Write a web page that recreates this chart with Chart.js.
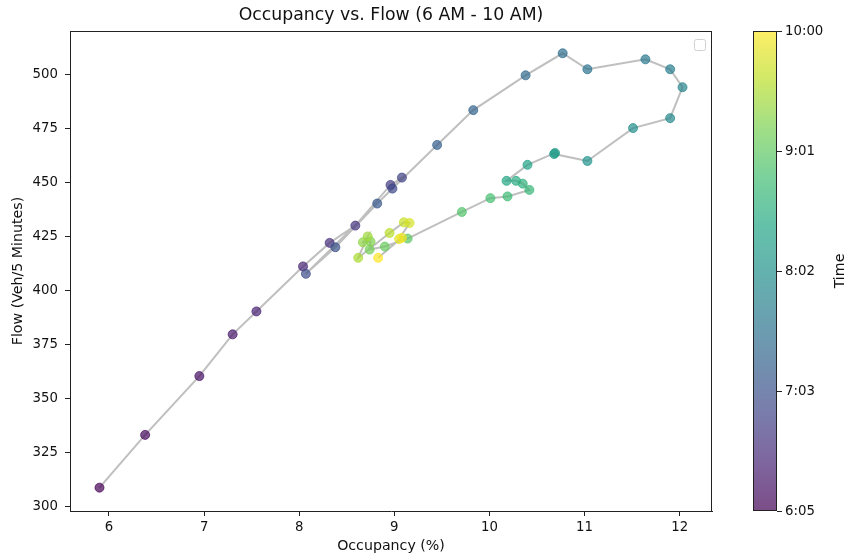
<!DOCTYPE html>
<html>
<head>
<meta charset="utf-8">
<script src="https://cdn.jsdelivr.net/npm/chart.js@4"></script>
<style>
  body { margin: 0; background: #fff; }
  canvas { display: block; }
</style>
</head>
<body>
<canvas id="chart" width="847" height="560"></canvas>
<script>
// time of each reading (5 minute steps)
var times = ['6:05','6:10','6:15','6:20','6:25','6:30','6:35','6:40','6:45','6:50','6:55','7:00',
             '7:05','7:10','7:15','7:20','7:25','7:30','7:35','7:40','7:45','7:50','7:55','8:00',
             '8:05','8:10','8:15','8:20','8:25','8:30','8:35','8:40','8:45','8:50','8:55','9:00',
             '9:05','9:10','9:15','9:20','9:25','9:30','9:35','9:40','9:45','9:50','9:55','10:00'];

var occupancy = [5.90, 6.38, 6.95, 7.30, 7.55, 8.04, 8.32, 8.59, 8.96, 9.08, 8.98, 8.07,
                 8.38, 8.82, 9.45, 9.83, 10.38, 10.77, 11.03, 11.64, 11.90, 12.03, 11.90, 11.51,
                 11.03, 10.68, 10.69, 10.40, 10.18, 10.28, 10.35, 10.42, 10.19, 10.01, 9.71, 9.14,
                 8.90, 8.74, 8.75, 8.67, 8.72, 8.62, 8.95, 9.10, 9.16, 9.05, 9.08, 8.83];

var flow = [308.8, 333.2, 360.4, 379.7, 390.3, 411.1, 422.0, 430.0, 448.8, 452.2, 447.1, 407.7,
            420.0, 440.2, 467.3, 483.4, 499.5, 509.7, 502.3, 506.9, 502.3, 494.0, 479.7, 475.1,
            459.9, 463.1, 463.6, 458.1, 450.7, 450.7, 449.4, 446.5, 443.5, 442.7, 436.3, 424.0,
            420.3, 418.9, 422.6, 422.3, 425.0, 415.1, 426.6, 431.5, 431.2, 423.8, 424.4, 415.1];

var xTicks = [6, 7, 8, 9, 10, 11, 12];
var yTicks = [300, 325, 350, 375, 400, 425, 450, 475, 500];
var colorbarTicks = ['6:05', '7:03', '8:02', '9:01', '10:00'];

var FONT = 'DejaVu Sans';
var TITLE = 'Occupancy vs. Flow (6 AM - 10 AM)';

function toMinutes(t) {
  var p = t.split(':');
  return parseInt(p[0]) * 60 + parseInt(p[1]);
}

// viridis colormap
var viridis = ['#440154','#482475','#414487','#355f8d','#2a788e','#21918c','#22a884','#44bf70','#7ad151','#bddf26','#fde725'];
function hexRgb(h) {
  return [parseInt(h.substr(1,2),16), parseInt(h.substr(3,2),16), parseInt(h.substr(5,2),16)];
}
function cmap(f, alpha) {
  f = Math.max(0, Math.min(1, f));
  var pos = f * (viridis.length - 1);
  var i = Math.min(Math.floor(pos), viridis.length - 2);
  var r = pos - i;
  var a = hexRgb(viridis[i]), b = hexRgb(viridis[i + 1]);
  var c = [0,1,2].map(function (k) { return Math.round(a[k] + (b[k] - a[k]) * r); });
  return 'rgba(' + c[0] + ',' + c[1] + ',' + c[2] + ',' + alpha + ')';
}

var tMin = toMinutes(times[0]);
var tMax = toMinutes(times[times.length - 1]);

var points = occupancy.map(function (x, i) { return {x: x, y: flow[i]}; });
var pointColors = times.map(function (t) { return cmap((toMinutes(t) - tMin) / (tMax - tMin), 0.7); });

var frameAndColorbar = {
  id: 'frameAndColorbar',
  afterDraw: function (chart) {
    var ctx = chart.ctx;
    var a = chart.chartArea;
    ctx.save();
    // top and right spines
    ctx.strokeStyle = '#222';
    ctx.lineWidth = 1;
    ctx.beginPath();
    ctx.moveTo(a.left, a.top + 0.5);
    ctx.lineTo(a.right, a.top + 0.5);
    ctx.moveTo(a.right - 0.5, a.top);
    ctx.lineTo(a.right - 0.5, a.bottom);
    ctx.stroke();

    // title, centred over the axes
    ctx.fillStyle = '#111';
    ctx.font = '17.3px "' + FONT + '"';
    ctx.textAlign = 'center';
    ctx.textBaseline = 'middle';
    ctx.fillText(TITLE, (a.left + a.right) / 2, 16);

    // empty legend box
    ctx.fillStyle = 'rgba(255,255,255,0.8)';
    ctx.strokeStyle = '#d0d0d0';
    ctx.beginPath();
    ctx.roundRect(a.right - 17.5, a.top + 8.5, 11, 11, 2);
    ctx.fill();
    ctx.stroke();

    // colorbar
    var cx = 753, cw = 24, top = a.top, bottom = a.bottom;
    var g = ctx.createLinearGradient(0, bottom, 0, top);
    for (var i = 0; i <= 20; i++) g.addColorStop(i / 20, cmap(i / 20, 0.7));
    ctx.fillStyle = g;
    ctx.fillRect(cx, top, cw, bottom - top);
    ctx.strokeStyle = '#222';
    ctx.strokeRect(cx + 0.5, top + 0.5, cw - 1, bottom - top - 1);

    ctx.fillStyle = '#111';
    ctx.font = '13.3px "' + FONT + '"';
    ctx.textAlign = 'left';
    ctx.textBaseline = 'middle';
    colorbarTicks.forEach(function (lab, k) {
      var f = k / (colorbarTicks.length - 1);
      var y = Math.round(bottom - f * (bottom - top)) + 0.5;
      ctx.beginPath();
      ctx.moveTo(cx + cw, y);
      ctx.lineTo(cx + cw + 5, y);
      ctx.stroke();
      ctx.fillText(lab, cx + cw + 8, y);
    });

    ctx.font = '14.2px "' + FONT + '"';
    ctx.translate(840, (top + bottom) / 2);
    ctx.rotate(-Math.PI / 2);
    ctx.textAlign = 'center';
    ctx.fillText('Time', 0, 0);
    ctx.restore();
  }
};

new Chart(document.getElementById('chart'), {
  type: 'scatter',
  data: {
    datasets: [{
      label: 'Readings',
      data: points,
      pointRadius: 4.5,
      pointHoverRadius: 4.5,
      pointBackgroundColor: pointColors,
      pointBorderColor: pointColors,
      pointBorderWidth: 1,
      showLine: false
    }, {
      label: 'Path',
      data: points,
      showLine: true,
      borderColor: 'rgba(128,128,128,0.5)',
      borderWidth: 2,
      pointRadius: 0,
      fill: false
    }]
  },
  options: {
    responsive: false,
    animation: false,
    devicePixelRatio: 1,
    layout: { padding: { left: 0, right: 135, top: 31, bottom: 0 } },
    plugins: {
      legend: { display: false },
      tooltip: { enabled: false },
      title: { display: false }
    },
    scales: {
      x: {
        type: 'linear',
        min: 5.59,
        max: 12.34,
        afterFit: function (s) { s.height = 49; },
        afterBuildTicks: function (s) { s.ticks = xTicks.map(function (v) { return {value: v}; }); },
        grid: { drawOnChartArea: false, drawTicks: true, tickLength: 5, color: '#222' },
        border: { display: true, color: '#222', width: 1 },
        ticks: { color: '#111', padding: 4, font: { family: FONT, size: 13.3 } },
        title: { display: true, text: 'Occupancy (%)', color: '#111', font: { family: FONT, size: 14.2 }, padding: { top: 0, bottom: 5 } }
      },
      y: {
        type: 'linear',
        min: 298,
        max: 520,
        afterFit: function (s) { s.width = 70; },
        afterBuildTicks: function (s) { s.ticks = yTicks.map(function (v) { return {value: v}; }); },
        grid: { drawOnChartArea: false, drawTicks: true, tickLength: 5, color: '#222' },
        border: { display: true, color: '#222', width: 1 },
        ticks: { color: '#111', padding: 7, font: { family: FONT, size: 13.3 } },
        title: { display: true, text: 'Flow (Veh/5 Minutes)', color: '#111', font: { family: FONT, size: 14.2 }, padding: { top: 10, bottom: 0 } }
      }
    }
  },
  plugins: [frameAndColorbar]
});
</script>
</body>
</html>
